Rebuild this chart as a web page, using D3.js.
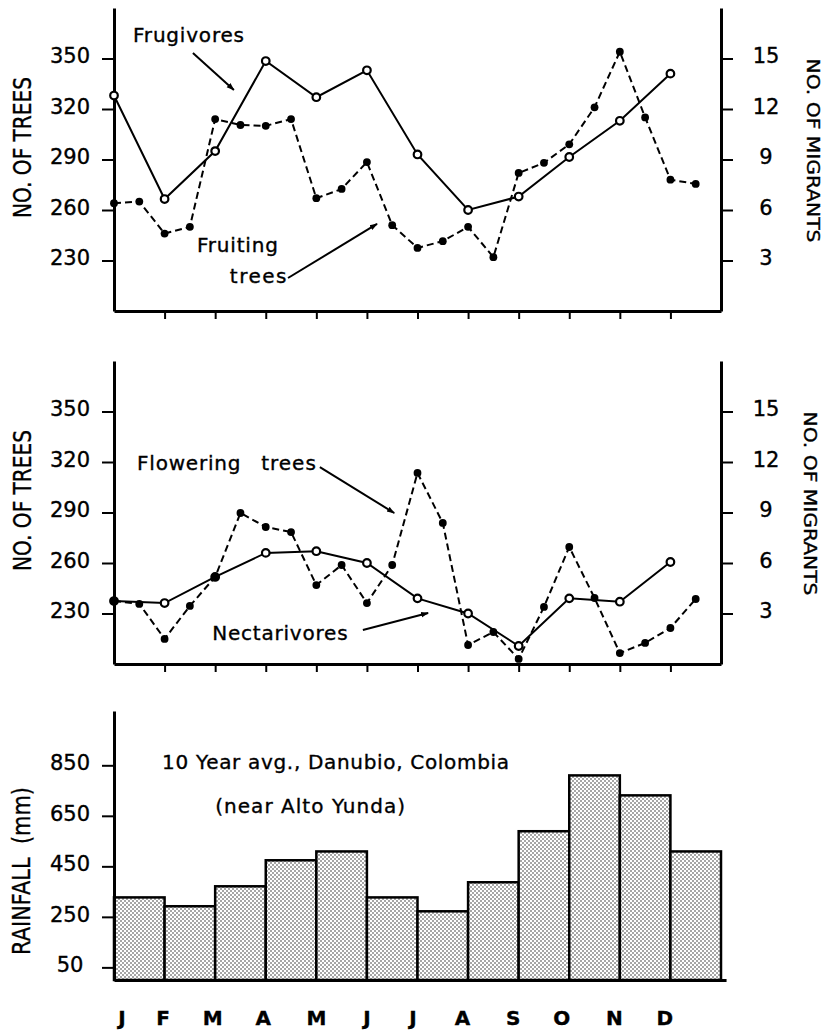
<!DOCTYPE html>
<html>
<head>
<meta charset="utf-8">
<script src="https://cdn.jsdelivr.net/npm/d3@7"></script>
<style>
  html, body { margin: 0; padding: 0; background: #fff; }
  svg text { font-family: "DejaVu Sans", Verdana, sans-serif; fill: #000; stroke: #000; stroke-width: 0.35px; }
</style>
</head>
<body>
<svg id="chart" width="826" height="1030"></svg>
<script>
// ---------------- data ----------------
const months = ["J", "F", "M", "A", "M", "J", "J", "A", "S", "O", "N", "D"];
// monthly counts of migrants (right axis)
const frugivores = [12.8, 6.65, 9.5, 14.85, 12.7, 14.3, 9.3, 6.0, 6.8, 9.15, 11.3, 14.1];
const nectarivores = [3.74, 3.62, 5.17, 6.6, 6.7, 6.0, 3.9, 3.0, 1.07, 3.9, 3.7, 6.06];
// half-monthly counts of trees (left axis)
const fruitingTrees = [264, 265, 246, 250, 314, 310.5, 310, 314, 267, 272.5, 288.5, 251,
                       237.5, 241.5, 250, 232, 282, 288, 299, 321, 354, 315, 278, 275.5];
const floweringTrees = [237.4, 235.7, 214.9, 234.5, 251.7, 289.7, 281.4, 278.4, 246.9, 258.8, 236.2, 258.8,
                        313.5, 283.8, 211.3, 219, 203, 233.9, 269.5, 239.2, 206.5, 212.5, 221.4, 238.6];
// monthly rainfall (mm)
const rainfall = [327, 292, 371, 474, 509, 327, 272, 387, 589, 810, 731, 509];

const treeTicks = [230, 260, 290, 320, 350];
const migrantTicks = [3, 6, 9, 12, 15];
const rainTicks = [50, 250, 450, 650, 850];

// ---------------- drawing ----------------
const svg = d3.select("#chart");

const defs = svg.append("defs");
defs.append("marker")
  .attr("id", "arrow").attr("viewBox", "0 0 10 10")
  .attr("refX", 9).attr("refY", 5)
  .attr("markerWidth", 8).attr("markerHeight", 8)
  .attr("markerUnits", "userSpaceOnUse")
  .attr("orient", "auto")
  .append("path").attr("d", "M0,1.5 L10,5 L0,8.5 Z").attr("fill", "#000");
const pat = defs.append("pattern")
  .attr("id", "stipple").attr("patternUnits", "userSpaceOnUse")
  .attr("width", 4).attr("height", 4);
pat.append("rect").attr("width", 4).attr("height", 4).attr("fill", "#fff");
pat.append("circle").attr("cx", 1).attr("cy", 1).attr("r", 0.75).attr("fill", "#222");
pat.append("circle").attr("cx", 3).attr("cy", 3).attr("r", 0.75).attr("fill", "#222");

const x = d3.scaleLinear().domain([0, 12]).range([114, 721]);
const monthIdx = d3.range(12);
const halfIdx = d3.range(24).map(i => i / 2);

function styleAxis(g) {
  g.select(".domain").attr("stroke", "#000").attr("stroke-width", 3);
  g.selectAll(".tick line").attr("stroke", "#000").attr("stroke-width", 2);
  g.selectAll(".tick text").attr("font-size", 21)
    .attr("font-family", "DejaVu Sans, sans-serif").attr("fill", "#000");
}

function linePanel(cfg) {
  const yL = d3.scaleLinear().domain([200, 380]).range([cfg.bottom, cfg.top]);
  const yR = d3.scaleLinear().domain([0, 18]).range([cfg.bottom, cfg.top]);
  const g = svg.append("g");

  // left axis
  const gl = g.append("g").attr("transform", `translate(${x(0)},0)`)
    .call(d3.axisLeft(yL).tickValues(treeTicks).tickSize(12).tickSizeOuter(0));
  styleAxis(gl);
  gl.selectAll(".tick text").attr("text-anchor", "middle").attr("x", -44).attr("dy", "0.2em");

  // right axis
  const gr = g.append("g").attr("transform", `translate(${x(12)},0)`)
    .call(d3.axisRight(yR).tickValues(migrantTicks).tickSize(12).tickSizeOuter(0));
  styleAxis(gr);
  gr.selectAll(".tick text").attr("text-anchor", "middle").attr("x", 45).attr("dy", "0.2em");

  // bottom axis
  const gb = g.append("g").attr("transform", `translate(0,${cfg.bottom})`)
    .call(d3.axisBottom(x).tickValues(d3.range(1, 12)).tickSize(8).tickSizeOuter(0).tickFormat(""));
  styleAxis(gb);

  // axis titles
  g.append("text")
    .attr("transform", `translate(31,${(cfg.top + cfg.bottom) / 2 - 12}) rotate(-90)`)
    .attr("text-anchor", "middle").attr("font-size", 24)
    .attr("textLength", 141).attr("lengthAdjust", "spacingAndGlyphs")
    .text("NO. OF TREES");
  g.append("text")
    .attr("transform", `translate(${cfg.rightTitleX},${(cfg.top + cfg.bottom) / 2 - 9}) rotate(90)`)
    .attr("text-anchor", "middle").attr("font-size", 18)
    .attr("textLength", 184).attr("lengthAdjust", "spacingAndGlyphs")
    .text("NO. OF MIGRANTS");

  // tree line (dashed, filled dots)
  const treeLine = d3.line().x((d, i) => x(halfIdx[i])).y(d => yL(d));
  g.append("path").datum(cfg.trees)
    .attr("d", treeLine).attr("fill", "none").attr("stroke", "#000")
    .attr("stroke-width", 2).attr("stroke-dasharray", "7,4");

  // migrant line (solid, open circles)
  const migLine = d3.line().x((d, i) => x(monthIdx[i])).y(d => yR(d));
  g.append("path").datum(cfg.migrants)
    .attr("d", migLine).attr("fill", "none").attr("stroke", "#000").attr("stroke-width", 2);

  g.selectAll(".mig").data(cfg.migrants).join("circle")
    .attr("cx", (d, i) => x(monthIdx[i])).attr("cy", d => yR(d)).attr("r", 3.8)
    .attr("fill", "#fff").attr("stroke", "#000").attr("stroke-width", 2.2);

  g.selectAll(".tree").data(cfg.trees).join("circle")
    .attr("cx", (d, i) => x(halfIdx[i])).attr("cy", d => yL(d)).attr("r", 3.9)
    .attr("fill", "#000");

  // annotations
  cfg.labels.forEach(l => {
    g.append("text").attr("x", x(l.i)).attr("y", yL(l.v))
      .attr("font-size", 20).attr("letter-spacing", l.ls || 0.8).text(l.t);
  });
  cfg.arrows.forEach(a => {
    g.append("line")
      .attr("x1", x(a[0])).attr("y1", yL(a[1])).attr("x2", x(a[2])).attr("y2", yL(a[3]))
      .attr("stroke", "#000").attr("stroke-width", 2).attr("marker-end", "url(#arrow)");
  });
}

linePanel({
  top: 8, bottom: 311, rightTitleX: 807,
  trees: fruitingTrees, migrants: frugivores,
  labels: [
    { t: "Frugivores", i: 0.376, v: 359.8 },
    { t: "Fruiting", i: 1.64, v: 235 },
    { t: "trees", i: 2.29, v: 216.6, ls: 1.5 }
  ],
  arrows: [[1.56, 353.3, 2.37, 331.3], [3.44, 219.6, 5.2, 251.7]]
});

linePanel({
  top: 361, bottom: 664, rightTitleX: 804,
  trees: floweringTrees, migrants: nectarivores,
  labels: [
    { t: "Flowering", i: 0.455, v: 315.3 },
    { t: "trees", i: 2.91, v: 315.3, ls: 1 },
    { t: "Nectarivores", i: 1.94, v: 214.3 }
  ],
  arrows: [[4.07, 317, 5.54, 289.7], [4.92, 220.2, 6.21, 230.3]]
});

// ---------------- rainfall panel ----------------
(function () {
  const y = d3.scaleLinear().domain([0, 1065]).range([980, 711]);
  const g = svg.append("g");

  g.selectAll(".bar").data(rainfall).join("rect")
    .attr("x", (d, i) => x(monthIdx[i])).attr("width", x(1) - x(0))
    .attr("y", d => y(d)).attr("height", d => y(0) - y(d))
    .attr("fill", "url(#stipple)").attr("stroke", "#000").attr("stroke-width", 2.5);

  const gl = g.append("g").attr("transform", `translate(${x(0)},0)`)
    .call(d3.axisLeft(y).tickValues(rainTicks).tickSize(12).tickSizeOuter(0));
  styleAxis(gl);
  gl.selectAll(".tick text").attr("text-anchor", "middle").attr("x", -44).attr("dy", "0.2em");

  const xb = d3.scaleLinear().domain([0, 12.1]).range([x(0), x(12.1)]);
  const gb = g.append("g").attr("transform", `translate(0,${y(0)})`)
    .call(d3.axisBottom(xb).tickValues([]).tickSizeOuter(0));
  styleAxis(gb);

  g.append("text")
    .attr("transform", `translate(30,${871}) rotate(-90)`)
    .attr("text-anchor", "middle").attr("font-size", 24)
    .attr("textLength", 168).attr("lengthAdjust", "spacingAndGlyphs")
    .text("RAINFALL\u00a0\u00a0(mm)");

  g.append("text").attr("x", x(0.95)).attr("y", y(835)).attr("font-size", 20)
    .attr("textLength", 347).attr("lengthAdjust", "spacing")
    .text("10 Year avg., Danubio, Colombia");
  g.append("text").attr("x", x(2.0)).attr("y", y(661)).attr("font-size", 20)
    .attr("textLength", 190).attr("lengthAdjust", "spacing")
    .text("(near Alto Yunda)");

  // month labels
  const shift = [0.16, -0.03, -0.05, -0.05, 0, 0, -0.09, -0.11, -0.11, -0.15, -0.11, -0.11];
  g.selectAll(".mon").data(months).join("text")
    .attr("x", (d, i) => x(monthIdx[i] + shift[i])).attr("y", 1025)
    .attr("text-anchor", "middle").attr("font-size", 20).attr("font-weight", "bold")
    .attr("stroke-width", 0)
    .text(d => d);
})();
</script>
</body>
</html>
